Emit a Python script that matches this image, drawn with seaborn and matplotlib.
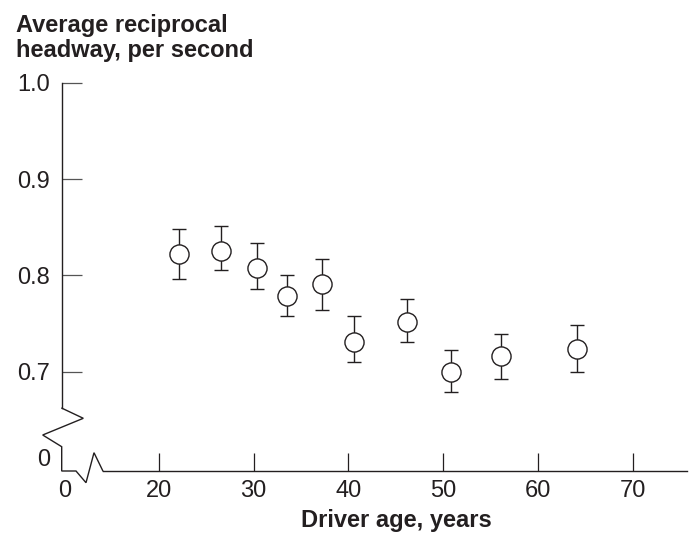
import matplotlib
matplotlib.use("Agg")
import matplotlib.pyplot as plt
import matplotlib.transforms as mtransforms
import numpy as np
import pandas as pd
import seaborn as sns

# Mean reciprocal headway by driver age, with confidence bounds
age = [22.1, 26.6, 30.3, 33.5, 37.2, 40.6, 46.2, 50.8, 56.1, 64.1]
mean_rh = [0.822, 0.825, 0.808, 0.779, 0.791, 0.731, 0.752, 0.700, 0.716, 0.724]
upper_rh = [0.848, 0.851, 0.834, 0.800, 0.817, 0.758, 0.776, 0.723, 0.739, 0.749]
lower_rh = [0.796, 0.806, 0.786, 0.758, 0.764, 0.710, 0.731, 0.679, 0.692, 0.700]

x_ticks = [20, 30, 40, 50, 60, 70]
y_ticks = [0.7, 0.8, 0.9, 1.0]

df = pd.DataFrame({"age": age, "mean": mean_rh, "upper": upper_rh, "lower": lower_rh})

sns.set_theme(style="white")
plt.rcParams["font.family"] = ["Liberation Sans", "DejaVu Sans"]

INK = "#231f20"
FS = 17

fig = plt.figure(figsize=(6.93, 5.37), dpi=100)
W, H = 693, 537
x0_px, x1_px = 61.7, 687.0
y_top_px, y_bot_px = 82.8, 471.0
ax = fig.add_axes([x0_px / W, 1 - y_bot_px / H, (x1_px - x0_px) / W, (y_bot_px - y_top_px) / H])

# error bars first, circles drawn on top with white fill
yerr = np.vstack([df["mean"] - df["lower"], df["upper"] - df["mean"]])
ax.errorbar(df["age"], df["mean"], yerr=yerr, fmt="none", ecolor=INK,
            elinewidth=1.0, capsize=5.2, capthick=1.0, zorder=2)
sns.scatterplot(data=df, x="age", y="mean", ax=ax, s=190, marker="o",
                facecolor="white", edgecolor=INK, linewidth=1.0, zorder=3,
                legend=False)

ax.set_xlim(9.73, 75.75)
ax.set_ylim(0.5969, 1.0)
ax.set_xticks(x_ticks)
ax.set_yticks(y_ticks)
ax.set_xticklabels([str(v) for v in x_ticks])
ax.set_yticklabels([f"{v:.1f}" for v in y_ticks])
ax.tick_params(axis="y", direction="in", length=14.4, width=0.9, color="#555555",
               pad=8.4, labelsize=FS, labelcolor=INK, left=True)
ax.tick_params(axis="x", direction="in", length=13, width=0.9, color=INK,
               pad=6.5, labelsize=FS, labelcolor=INK, bottom=True)
ax.set_xlabel("")
ax.set_ylabel("")

for side in ("top", "right"):
    ax.spines[side].set_visible(False)
for side in ("left", "bottom"):
    ax.spines[side].set_color(INK)
    ax.spines[side].set_linewidth(1.0)
ax.spines["left"].set_bounds(0.662, 1.0)
ax.spines["bottom"].set_bounds(14.05, 75.75)

# axis breaks: zigzags drawn in pixel offsets from the axes corner
corner = mtransforms.Affine2D() + mtransforms.ScaledTranslation(0, 0, ax.transAxes)
brk_x = [0, 21.6, -19, 0, 0, 14.3, 24.3, 32.3, 41.2]
brk_y = [62.9, 52.7, 36.0, 24.3, 0, 0, -11.7, 18.3, 0]
ax.plot(brk_x, brk_y, color=INK, lw=1.0, transform=corner, clip_on=False,
        solid_joinstyle="miter")

# origin labels on both broken axes
ax.text(-11.7, 11, "0", transform=corner, ha="right", va="center",
        fontsize=FS, color=INK)
ax.text(3.3, -20, "0", transform=corner, ha="center", va="center",
        fontsize=FS, color=INK)

fig.text(16 / W, 1 - 31.7 / H, "Average reciprocal", fontsize=FS,
         fontweight="bold", color=INK, ha="left", va="baseline")
fig.text(16 / W, 1 - 56.7 / H, "headway, per second", fontsize=FS,
         fontweight="bold", color=INK, ha="left", va="baseline")
fig.text(396 / W, 1 - 527.5 / H, "Driver age, years", fontsize=FS,
         fontweight="bold", color=INK, ha="center", va="baseline")

fig.savefig("out.png", dpi=100, facecolor="white")
